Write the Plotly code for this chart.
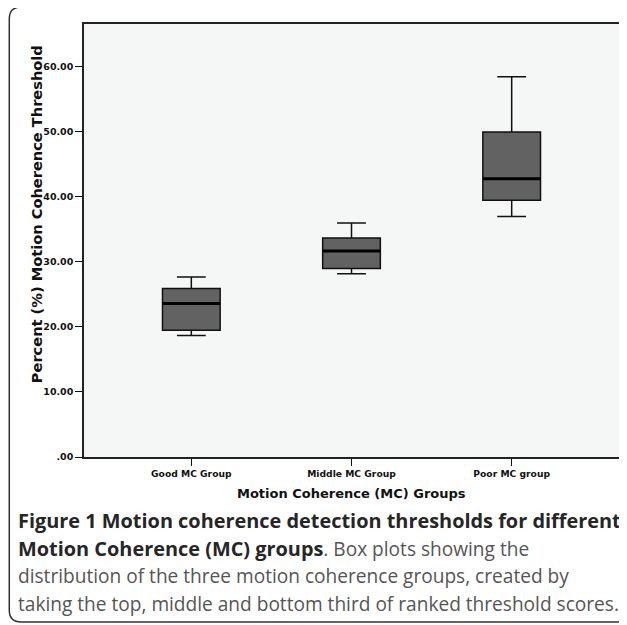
import plotly.graph_objects as go

groups = ["Good MC Group", "Middle MC Group", "Poor MC group"]
lower_whisker = [18.7, 28.2, 37.0]
q1 = [19.5, 29.0, 39.5]
median = [23.6, 31.7, 42.8]
q3 = [25.9, 33.7, 50.0]
upper_whisker = [27.7, 36.0, 58.5]
y_ticks = [0, 10, 20, 30, 40, 50, 60]
y_tick_labels = [".00", "10.00", "20.00", "30.00", "40.00", "50.00", "60.00"]

# page geometry (the page body adds an 8px margin)
OFF = 8
PW, PH = 627, 625
W, H = PW - OFF, PH - OFF
L, R, T, B = 84, 621, 24, 457   # plot area in page pixels
BOX_W = 0.36

def px(x):
    return (x - L) / (R - L)

def py(y):
    return (B - y) / (B - T)

xs = list(range(len(groups)))
fig = go.Figure()
fig.add_trace(go.Box(
    x=xs, q1=q1, median=median, q3=q3,
    lowerfence=lower_whisker, upperfence=upper_whisker,
    width=BOX_W, whiskerwidth=0.5,
    fillcolor="#626262", line=dict(color="#111111", width=1.5),
    boxpoints=False, hoverinfo="skip", showlegend=False,
))
mx, my = [], []
for i, m in zip(xs, median):
    mx += [i - BOX_W / 2, i + BOX_W / 2, None]
    my += [m, m, None]
fig.add_trace(go.Scatter(x=mx, y=my, mode="lines",
                         line=dict(color="#000000", width=3),
                         hoverinfo="skip", showlegend=False))

fig.update_layout(
    width=W, height=H,
    margin=dict(l=L - OFF, r=W - (R - OFF), t=T - OFF, b=H - (B - OFF)),
    paper_bgcolor="white", plot_bgcolor="#f5f7f6",
    xaxis=dict(range=[-0.67, 2.67], tickvals=xs,
               ticktext=["<b>%s</b>" % g for g in groups],
               tickfont=dict(family="DejaVu Sans", size=9.2, color="#111111"),
               ticks="outside", ticklen=7, tickcolor="#111111",
               showline=True, linecolor="#222222", linewidth=1.5, mirror=True,
               showgrid=False, zeroline=False, fixedrange=True),
    yaxis=dict(range=[0, 66.6], tickvals=y_ticks,
               ticktext=["<b>%s</b>" % t for t in y_tick_labels],
               tickfont=dict(family="DejaVu Sans", size=9.5, color="#111111"),
               ticks="outside", ticklen=7, tickcolor="#111111",
               showline=True, linecolor="#222222", linewidth=1.5, mirror=True,
               showgrid=False, zeroline=False, fixedrange=True),
)

ann = []
ann.append(dict(text="<b>Percent (%) Motion Coherence Threshold</b>",
                x=px(36), y=py(214), xref="paper", yref="paper",
                xanchor="center", yanchor="middle",
                textangle=-90, showarrow=False,
                font=dict(family="DejaVu Sans", size=14.6, color="#111111")))
ann.append(dict(text="<b>Motion Coherence (MC) Groups</b>",
                x=px(352), y=py(493), xref="paper", yref="paper",
                xanchor="center", yanchor="middle", showarrow=False,
                font=dict(family="DejaVu Sans", size=13, color="#111111")))
BOLD = '<span style="color:#262626;font-size:19.9px"><b>%s</b></span>'
cap_lines = [
    BOLD % "Figure 1 Motion coherence detection thresholds for different",
    BOLD % "Motion Coherence (MC) groups" + ". Box plots showing the",
    "distribution of the three motion coherence groups, created by",
    "taking the top, middle and bottom third of ranked threshold scores.",
]
cap_y = [520, 548, 576, 604]
for t, yy in zip(cap_lines, cap_y):
    ann.append(dict(text=t, x=px(16), y=py(yy), xref="paper", yref="paper",
                    xanchor="left", yanchor="middle", showarrow=False,
                    font=dict(family="Open Sans", size=19.1, color="#555555")))
fig.update_layout(annotations=ann)

# rounded frame around the figure (open at the right edge)
x0, y0, x1, y1, r = 9, 7, 660, 622, 12
path = ("M %f,%f L %f,%f Q %f,%f %f,%f L %f,%f Q %f,%f %f,%f L %f,%f" % (
    px(x1), py(y0), px(x0 + r), py(y0), px(x0), py(y0), px(x0), py(y0 + r),
    px(x0), py(y1 - r), px(x0), py(y1), px(x0 + r), py(y1), px(x1), py(y1)))
fig.add_shape(type="path", path=path, xref="paper", yref="paper",
              line=dict(color="#333333", width=1.5), layer="below")

fig.write_html("out.html")
